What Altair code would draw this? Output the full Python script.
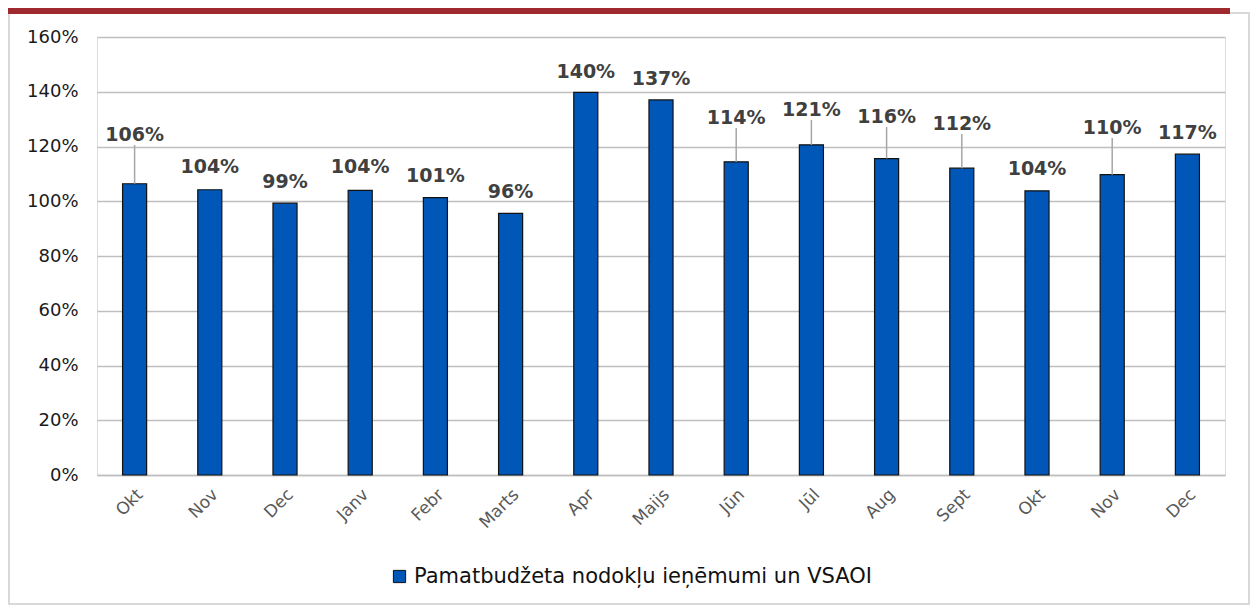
import altair as alt
import pandas as pd

months = ["Okt", "Nov", "Dec", "Janv", "Febr", "Marts", "Apr", "Maijs",
          "Jūn", "Jūl", "Aug", "Sept", "Okt", "Nov", "Dec"]
values = [106.4, 104.2, 99.3, 104.0, 101.3, 95.6, 139.8, 137.0,
          114.4, 120.6, 115.6, 112.1, 103.8, 109.7, 117.2]
label_pos = [124.2, 112.5, 107.0, 112.5, 109.3, 103.5, 147.3, 144.5,
             130.4, 133.3, 130.8, 128.2, 111.8, 126.8, 124.9]
leader = [True, False, False, False, False, False, False, False,
          True, True, True, True, False, True, False]
series_name = "Pamatbudžeta nodokļu ieņēmumi un VSAOI"

FONT = "DejaVu Sans"
BLUE = "#0057b7"

df = pd.DataFrame({
    "idx": list(range(len(months))),
    "month": months,
    "value": values,
    "label_y": label_pos,
    "leader": leader,
    "series": [series_name] * len(months),
})
df["label"] = [f"{int(v + 0.5)}%" for v in values]

label_expr = "[" + ",".join("'" + m + "'" for m in months) + "][datum.value]"

x_enc = alt.X("idx:O", title=None,
              axis=alt.Axis(labelExpr=label_expr, labelAngle=-45, labelFontSize=17,
                            labelColor="#595959", labelFont=FONT, ticks=False,
                            domainColor="#bfbfbf", domainWidth=1.3, labelPadding=11),
              scale=alt.Scale(paddingInner=0.68, paddingOuter=0.34))

bars = alt.Chart(df).mark_bar(stroke="#111111", strokeWidth=1.2).encode(
    x=x_enc,
    y=alt.Y("value:Q", title=None,
            scale=alt.Scale(domain=[0, 160]),
            axis=alt.Axis(values=list(range(0, 161, 20)), labelExpr="datum.value + '%'",
                          labelFontSize=18, labelFont=FONT, labelColor="#1a1a1a",
                          domain=False, ticks=False, gridColor="#bfbfbf",
                          gridWidth=1.3, labelPadding=19)),
    color=alt.Color("series:N", title=None,
                    scale=alt.Scale(range=[BLUE]),
                    legend=alt.Legend(orient="none", legendX=292, legendY=529,
                                      symbolType="square", symbolSize=150,
                                      symbolStrokeColor="#111111", symbolStrokeWidth=1,
                                      labelFontSize=21, labelFont=FONT,
                                      labelColor="#111111", labelLimit=700,
                                      labelOffset=4)),
)

leaders = alt.Chart(df).transform_filter("datum.leader").mark_rule(
    color="#a6a6a6", strokeWidth=1.5, y2Offset=10).encode(
    x="idx:O", y="value:Q", y2="label_y:Q")

texts = alt.Chart(df).mark_text(fontSize=19, fontWeight="bold", color="#404040",
                                font=FONT, baseline="middle").encode(
    x="idx:O", y="label_y:Q", text="label:N")

one = pd.DataFrame({"k": [0]})
frame = alt.Chart(one).mark_rect(filled=False, stroke="#d9d9d9", strokeWidth=2).encode(
    x=alt.value(-88), x2=alt.value(1152), y=alt.value(-24), y2=alt.value(567))
redbar = alt.Chart(one).mark_rect(fill="#9e2a2f").encode(
    x=alt.value(-89), x2=alt.value(1133), y=alt.value(-29), y2=alt.value(-23))

chart = alt.layer(frame, redbar, bars, leaders, texts).properties(
    width=1128, height=438,
    autosize=alt.AutoSizeParams(type="none"),
    padding={"left": 89, "top": 29, "right": 25, "bottom": 130},
).configure_view(stroke=None).configure(background="white")

chart.save("out.html", embed_options={"renderer": "svg", "actions": False})
